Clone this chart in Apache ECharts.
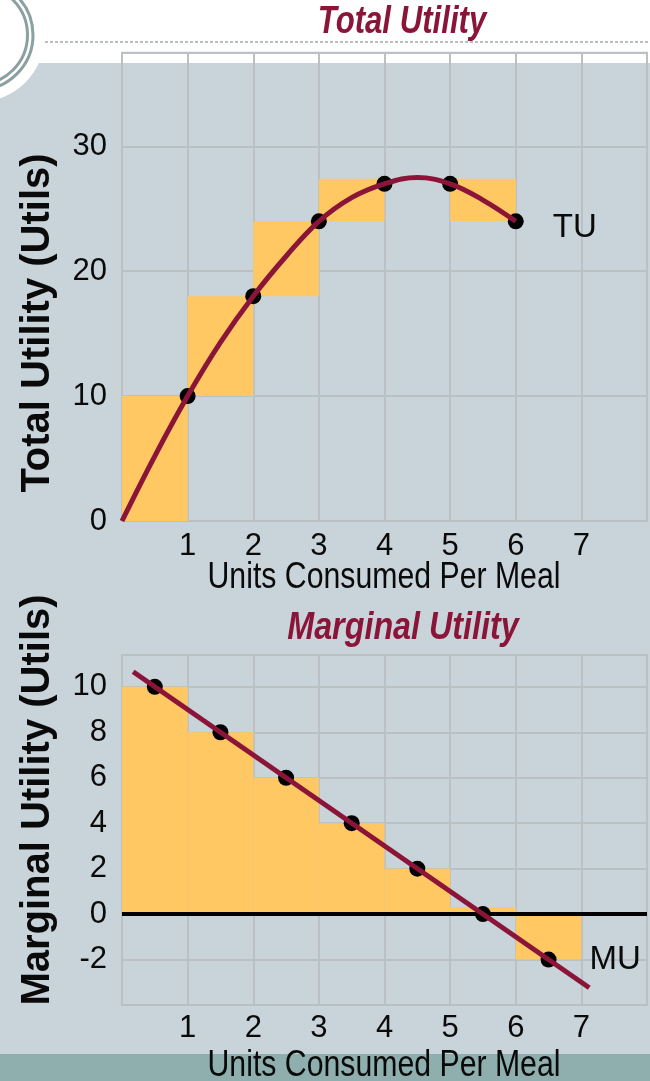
<!DOCTYPE html>
<html><head><meta charset="utf-8">
<script src="https://cdn.jsdelivr.net/npm/echarts@6/dist/echarts.min.js"></script>
<style>
html,body{margin:0;padding:0;}
#c{width:650px;height:1081px;background:linear-gradient(to bottom,#ffffff 0px,#ffffff 63px,#c9d4da 63px,#c9d4da 1054px,#8eafae 1054px,#8eafae 1081px);}
</style>
</head><body><div id="c"></div>
<script>
// ---- data ----
const xTicks = [1, 2, 3, 4, 5, 6, 7];
const tuTicks = [0, 10, 20, 30];
const muTicks = [-2, 0, 2, 4, 6, 8, 10];

const tuUnits = [1, 2, 3, 4, 5, 6];
const tuValues = [10, 18, 24, 27, 27, 24];
// curve
const tuCurveUnits = [0, 0.5, 1, 1.5, 2, 2.5, 3, 3.5, 4, 4.5, 5, 5.5, 6];
const tuCurveValues = [0, 5.2, 10, 14.3, 18, 21.2, 24, 25.9, 27, 27.5, 27, 25.7, 24];
const tuStepFrom = [0, 1, 2, 3, 5];
const tuStepTo = [1, 2, 3, 4, 6];
const tuStepLow = [0, 10, 18, 24, 24];
const tuStepHigh = [10, 18, 24, 27.4, 27.4];

const muUnits = [0.5, 1.5, 2.5, 3.5, 4.5, 5.5, 6.5];
const muValues = [10, 8, 6, 4, 2, 0, -2];
const muBarFrom = [0, 1, 2, 3, 4, 5, 6];
const muBarTo = [1, 2, 3, 4, 5, 6, 7];
const muBarValues = [10, 8, 6, 4, 2, 0.3, -2];
const muLineUnits = [0.17, 7.12];
const muLineValues = [10.66, -3.24];
const zeroLineUnits = [0, 8];
const zeroLineValues = [0, 0];

// ---- styles ----
const ORANGE = '#ffc862';
const MAROON = '#8a1538';
const GRIDC = '#bac0c3';
const SANS = "'Liberation Sans',Arial,sans-serif";
const INK = '#0a0a0a';

const zip = (a, b) => a.map((v, i) => [v, b[i]]);

function rectItem(params, api) {
  const x0 = api.value(0), x1 = api.value(1), y0 = api.value(2), y1 = api.value(3);
  const a = api.coord([x0, Math.max(y0, y1)]);
  const b = api.coord([x1, Math.min(y0, y1)]);
  return { type: 'rect', shape: { x: a[0], y: a[1], width: b[0] - a[0], height: b[1] - a[1] }, style: { fill: ORANGE } };
}

const xAxisBase = (gi, margin) => ({
  type: 'value', gridIndex: gi, min: 0, max: 8, interval: 1,
  axisLine: { show: false }, axisTick: { show: false },
  splitLine: { show: true, lineStyle: { color: GRIDC, width: 2 } },
  axisLabel: { margin: margin, fontSize: 31, color: INK, fontFamily: SANS,
    formatter: v => xTicks.includes(v) ? String(v) : '' }
});

const yLabel = (ticks) => ({ margin: 15, fontSize: 31, color: INK, fontFamily: SANS,
  formatter: v => ticks.includes(v) ? String(v) : '' });

const endLabel = (text, dist, off) => ({ show: true, position: 'right', distance: dist, offset: off, formatter: text,
  fontSize: 33, color: INK, fontFamily: SANS, opacity: 1 });

const option = {
  animation: false,
  grid: [
    { left: 122, top: 52.7, width: 525, height: 468.3, show: true, borderColor: GRIDC, borderWidth: 2, backgroundColor: 'transparent' },
    { left: 122, top: 655, width: 525, height: 350, show: true, borderColor: GRIDC, borderWidth: 2, backgroundColor: 'transparent' }
  ],
  xAxis: [xAxisBase(0, 10), xAxisBase(1, 8)],
  yAxis: [
    { type: 'value', gridIndex: 0, min: 0, max: 37.5, interval: 10,
      axisLine: { show: false }, axisTick: { show: false },
      splitLine: { show: true, lineStyle: { color: GRIDC, width: 2 } },
      axisLabel: yLabel(tuTicks) },
    { type: 'value', gridIndex: 1, min: -4, max: 11.4, interval: 2,
      axisLine: { show: false }, axisTick: { show: false },
      splitLine: { show: true, lineStyle: { color: GRIDC, width: 2 } },
      axisLabel: yLabel(muTicks) }
  ],
  series: [
    { type: 'custom', xAxisIndex: 0, yAxisIndex: 0, renderItem: rectItem, z: 1,
      encode: { x: [0, 1], y: [2, 3] },
      data: tuStepFrom.map((f, i) => [f, tuStepTo[i], tuStepLow[i], tuStepHigh[i]]) },
    { type: 'scatter', xAxisIndex: 0, yAxisIndex: 0, z: 3, symbolSize: 16,
      itemStyle: { color: '#000', opacity: 1 },
      data: zip(tuUnits, tuValues).map((d, i, arr) => i === arr.length - 1 ?
        { value: d, label: endLabel('TU', 29, [0, 7]) } : d) },
    { type: 'line', xAxisIndex: 0, yAxisIndex: 0, z: 4, smooth: 0.4, symbol: 'none',
      lineStyle: { color: MAROON, width: 5 }, data: zip(tuCurveUnits, tuCurveValues) },

    { type: 'custom', xAxisIndex: 1, yAxisIndex: 1, renderItem: rectItem, z: 1,
      encode: { x: [0, 1], y: [2, 3] },
      data: muBarFrom.map((f, i) => [f, muBarTo[i], 0, muBarValues[i]]) },
    { type: 'line', xAxisIndex: 1, yAxisIndex: 1, z: 2, symbol: 'none',
      lineStyle: { color: '#000', width: 4 }, data: zip(zeroLineUnits, zeroLineValues) },
    { type: 'scatter', xAxisIndex: 1, yAxisIndex: 1, z: 3, symbolSize: 16,
      itemStyle: { color: '#000', opacity: 1 },
      data: zip(muUnits, muValues).map((d, i, arr) => i === arr.length - 1 ?
        { value: d, label: endLabel('MU', 33, [0, 0]) } : d) },
    { type: 'line', xAxisIndex: 1, yAxisIndex: 1, z: 4, symbol: 'none',
      lineStyle: { color: MAROON, width: 5 }, data: zip(muLineUnits, muLineValues) }
  ],
  graphic: [
    { type: 'circle', shape: { cx: -22, cy: 35, r: 67 }, style: { fill: '#ffffff' }, z: 10 },
    { type: 'circle', shape: { cx: -22, cy: 35, r: 55 }, style: { fill: 'none', stroke: '#8aa0a1', lineWidth: 3 }, z: 11 },
    { type: 'circle', shape: { cx: -22, cy: 35, r: 49.5 }, style: { fill: 'none', stroke: '#8aa0a1', lineWidth: 3 }, z: 11 },
    { type: 'line', shape: { x1: 45, y1: 42, x2: 650, y2: 42 }, style: { stroke: '#a2aaab', lineWidth: 1.5, lineDash: [3, 2] }, z: 10 },
    { type: 'text', x: 402, y: 23, scaleX: 0.82, z: 12, style: { text: 'Total Utility', fill: MAROON, font: "italic bold 38px " + SANS, align: 'center', verticalAlign: 'middle' } },
    { type: 'text', x: 403, y: 629, scaleX: 0.85, z: 12, style: { text: 'Marginal Utility', fill: MAROON, font: "italic bold 38px " + SANS, align: 'center', verticalAlign: 'middle' } },
    { type: 'text', x: 384, y: 578, scaleX: 0.84, z: 12, style: { text: 'Units Consumed Per Meal', fill: INK, font: "36px " + SANS, align: 'center', verticalAlign: 'middle' } },
    { type: 'text', x: 384, y: 1066, scaleX: 0.84, z: 12, style: { text: 'Units Consumed Per Meal', fill: INK, font: "36px " + SANS, align: 'center', verticalAlign: 'middle' } },
    { type: 'text', x: 38, y: 323, rotation: Math.PI / 2, z: 12, style: { text: 'Total Utility (Utils)', fill: INK, font: "bold 40px " + SANS, align: 'center', verticalAlign: 'middle' } },
    { type: 'text', x: 38, y: 800, rotation: Math.PI / 2, z: 12, style: { text: 'Marginal Utility (Utils)', fill: INK, font: "bold 40px " + SANS, align: 'center', verticalAlign: 'middle' } }
  ]
};

const chart = echarts.init(document.getElementById('c'), null, { renderer: 'canvas' });
chart.setOption(option);
</script>
</body></html>
